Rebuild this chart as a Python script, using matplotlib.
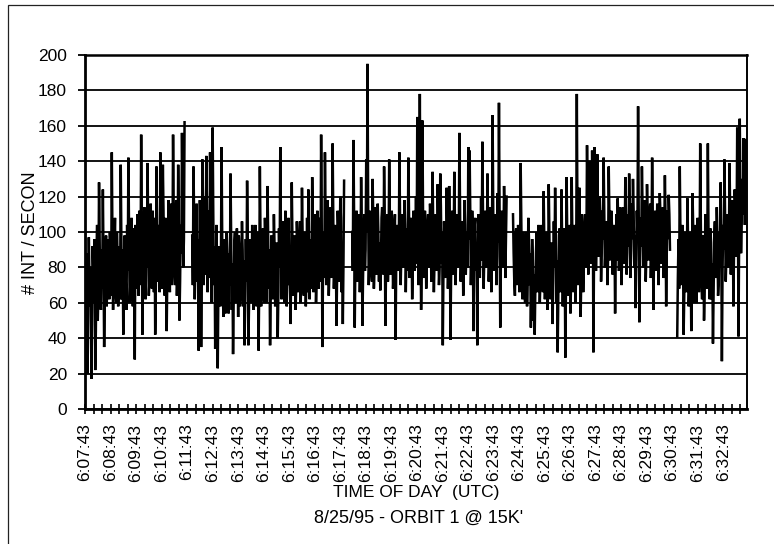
import numpy as np
import matplotlib
matplotlib.use("Agg")
import matplotlib.pyplot as plt
from matplotlib.patches import Rectangle

plt.rcParams['font.family'] = ['Liberation Sans', 'DejaVu Sans']

# ---------------- data ----------------
# counts per second, read every 3 s (main) and at the 1.5 s points in between (mid)
STEP = 3

seg1_start = 0
seg1 = [100, 62, 20, 97, 58, 17, 92, 60, 22, 86, 50, 128, 60, 90, 124, 35, 84, 58, 96, 62,
        88, 145, 56, 94, 66, 100, 58, 92, 138, 62, 42, 98, 68, 104, 142, 60, 96, 66, 102, 28,
        88, 110, 64, 96, 155, 42, 100, 70, 106, 139, 64, 100, 74, 112, 66, 42, 137, 72, 104, 145,
        68, 138, 76, 108, 44, 100, 74, 116, 70, 155, 80, 106, 64, 138, 50, 104, 156, 80, 162]
seg1_mid = [74, 88, 52, 70, 80, 48, 78, 96, 44, 104, 66, 92, 56, 68, 84, 62, 98, 72, 84, 100,
            64, 96, 78, 108, 60, 86, 70, 62, 94, 90, 66, 84, 56, 78, 100, 70, 108, 58, 80, 104,
            68, 92, 112, 70, 96, 76, 114, 62, 80, 104, 72, 116, 68, 94, 108, 70, 98, 84, 66, 110,
            96, 112, 64, 96, 78, 118, 66, 98, 84, 112, 70, 118, 80, 104, 72, 88, 120, 96]

seg2_start = 252
seg2 = [98, 137, 62, 110, 72, 33, 118, 35, 141, 70, 120, 143, 66, 112, 145, 60, 159, 70, 34, 104,
        23, 92, 58, 148, 64, 96, 54, 100, 62, 88, 133, 56, 31, 94, 60, 102, 52, 90, 64, 106,
        58, 36, 96, 129, 36, 88, 60, 104, 56, 92, 66, 100, 33, 137, 58, 96, 64, 108, 60, 126,
        68, 36, 98, 62, 110, 58, 94, 40, 102, 148, 62, 96, 66, 112, 58, 100, 70, 48, 128, 64,
        98, 56, 106, 66, 94, 60, 125, 70, 100, 58, 108, 124, 62, 96, 131, 66, 104, 60, 112, 68,
        96, 155, 35, 100, 145, 70, 118, 64, 110, 74, 150, 68, 104, 47, 112, 72, 120, 66, 48, 129]
seg2_mid = [70, 108, 84, 116, 96, 64, 90, 72, 112, 94, 76, 118, 88, 74, 104, 82, 110, 92, 66, 80,
            68, 78, 84, 96, 52, 80, 66, 88, 54, 70, 98, 82, 62, 100, 74, 86, 98, 58, 82, 90,
            84, 62, 72, 100, 58, 96, 72, 88, 68, 104, 58, 84, 70, 96, 76, 102, 60, 90, 80, 98,
            90, 64, 84, 72, 92, 70, 82, 66, 80, 100, 78, 106, 60, 90, 72, 108, 90, 74, 96, 76,
            82, 70, 94, 74, 106, 78, 98, 64, 86, 74, 66, 96, 78, 68, 104, 82, 110, 76, 94, 108,
            72, 102, 80, 74, 108, 84, 100, 78, 114, 86, 106, 80, 96, 74, 100, 84, 108, 92, 82]

seg3_start = 628
seg3 = [100, 152, 46, 104, 72, 110, 66, 131, 47, 96, 78, 141, 195, 70, 112, 80, 130, 68, 104, 76,
        116, 72, 67, 108, 84, 137, 47, 102, 72, 141, 76, 112, 68, 98, 39, 104, 78, 145, 70, 110,
        80, 118, 66, 102, 142, 74, 108, 62, 112, 78, 120, 165, 70, 178, 56, 163, 74, 112, 68, 104,
        80, 116, 72, 134, 66, 100, 78, 127, 70, 133, 82, 36, 106, 74, 125, 68, 126, 39, 104, 76,
        134, 70, 110, 80, 156, 72, 106, 64, 118, 76, 100, 148, 146, 70, 112, 44, 104, 78, 36, 110,
        74, 120, 151, 68, 108, 80, 133, 72, 114, 66, 166, 78, 110, 70, 122, 173, 46, 112, 80, 126,
        74, 120]
seg3_mid = [78, 108, 84, 112, 84, 96, 82, 102, 74, 110, 90, 100, 116, 86, 104, 72, 108, 80, 114, 88,
            100, 94, 80, 114, 76, 106, 78, 110, 86, 104, 82, 100, 76, 110, 82, 98, 84, 108, 88, 102,
            92, 104, 86, 78, 112, 90, 98, 80, 106, 88, 82, 108, 92, 104, 80, 112, 94, 100, 86, 110,
            96, 108, 84, 102, 82, 110, 88, 104, 80, 114, 100, 78, 96, 86, 106, 82, 98, 76, 112, 90,
            106, 88, 100, 90, 110, 84, 98, 82, 104, 90, 80, 96, 112, 86, 102, 80, 108, 92, 84, 100,
            92, 84, 110, 86, 112, 90, 104, 84, 100, 88, 112, 92, 106, 86, 94, 110, 84, 102, 92, 108,
            96]

seg4_start = 1006
seg4 = [110, 72, 98, 80, 104, 66, 139, 74, 100, 68, 92, 58, 108, 70, 46, 96, 50, 42, 88, 66,
        104, 60, 96, 72, 123, 62, 100, 56, 127, 70, 94, 48, 106, 125, 60, 32, 98, 66, 124, 58,
        102, 29, 131, 64, 96, 54, 131, 72, 104, 60, 178, 70, 125, 52, 110, 66, 98, 80, 149, 76,
        140, 82, 146, 32, 148, 78, 144, 86, 120, 72, 112, 142, 80, 106, 70, 137, 84, 112, 76, 104,
        54, 110, 119, 78, 114, 70, 104, 82, 131, 76, 110, 133, 74, 116, 130, 80, 57, 112, 171, 49,
        108, 137, 80, 118, 72, 127, 84, 110, 74, 142, 56, 104, 78, 116, 70, 122, 82, 108, 74, 132,
        58, 112, 121, 90]
seg4_mid = [88, 64, 102, 70, 92, 78, 104, 62, 90, 60, 100, 74, 96, 88, 72, 84, 76, 68, 100, 80,
            86, 74, 104, 66, 96, 78, 94, 70, 100, 62, 88, 72, 80, 98, 84, 68, 102, 76, 94, 80,
            86, 70, 100, 76, 104, 72, 96, 66, 92, 80, 106, 88, 98, 76, 102, 84, 110, 92, 112, 96,
            116, 96, 118, 92, 114, 94, 112, 90, 108, 88, 96, 110, 90, 100, 86, 112, 94, 104, 92, 98,
            88, 84, 106, 90, 110, 86, 114, 94, 108, 88, 92, 112, 90, 96, 112, 98, 84, 100, 112, 86,
            92, 114, 96, 110, 88, 108, 90, 116, 92, 110, 88, 112, 94, 106, 88, 110, 94, 114, 96, 108,
            90, 96, 110]

seg5_start = 1392
seg5 = [41, 96, 137, 70, 104, 42, 92, 66, 119, 58, 100, 44, 122, 70, 96, 60, 108, 66, 150, 72,
        98, 50, 110, 68, 150, 76, 102, 62, 37, 96, 74, 114, 64, 100, 128, 27, 104, 141, 72, 110,
        80, 139, 76, 118, 58, 124, 86, 159, 41, 164, 88, 130, 153, 104, 152]
seg5_mid = [74, 68, 100, 84, 92, 64, 100, 78, 94, 70, 88, 66, 102, 60, 104, 76, 96, 80, 104, 62,
            86, 66, 96, 78, 100, 62, 94, 82, 66, 106, 80, 98, 72, 84, 98, 78, 90, 108, 86, 100,
            94, 108, 92, 112, 90, 116, 100, 118, 96, 120, 104, 110, 126, 118]

time_labels = ["6:07:43", "6:08:43", "6:09:43", "6:10:43", "6:11:43", "6:12:43", "6:13:43",
               "6:14:43", "6:15:43", "6:16:43", "6:17:43", "6:18:43", "6:19:43", "6:20:43",
               "6:21:43", "6:22:43", "6:23:43", "6:24:43", "6:25:43", "6:26:43", "6:27:43",
               "6:28:43", "6:29:43", "6:30:43", "6:31:43", "6:32:43"]

segments = [(seg1_start, seg1, seg1_mid), (seg2_start, seg2, seg2_mid),
            (seg3_start, seg3, seg3_mid), (seg4_start, seg4, seg4_mid),
            (seg5_start, seg5, seg5_mid)]

# ---------------- figure ----------------
W, H = 774, 544
fig = plt.figure(figsize=(W / 100, H / 100), dpi=100)
ax = fig.add_axes([85 / W, 1 - 409 / H, (747 - 85) / W, (409 - 55) / H])

for start, main, mid in segments:
    n = len(main)
    m = min(len(mid), n - 1)
    t = np.concatenate([start + STEP * np.arange(n), start + STEP / 2 + STEP * np.arange(m)])
    v = np.concatenate([np.asarray(main, float), np.asarray(mid[:m], float)])
    order = np.argsort(t, kind='stable')
    ax.plot(t[order], v[order], color='black', lw=1.8, solid_joinstyle='miter')

ax.set_xlim(0, 1556)
ax.set_ylim(0, 200)
ax.set_yticks(range(0, 201, 20))
ax.yaxis.grid(True, color='black', lw=1.3)
ax.set_axisbelow(True)

major = [60 * i for i in range(len(time_labels))]
ax.set_xticks(major)
ax.set_xticklabels(time_labels, rotation=90, fontsize=12.5)
ax.set_xticks(np.arange(0, 1556, 20), minor=True)
ax.tick_params(axis='x', which='both', direction='inout', length=7, width=1.2, pad=7)
ax.tick_params(axis='y', direction='out', length=5, width=1.3, labelsize=12.5, pad=8)

for s in ['left', 'bottom']:
    ax.spines[s].set_linewidth(2.0)
ax.spines['right'].set_linewidth(1.4)
ax.spines['top'].set_linewidth(1.8)

fig.text(31 / W, 1 - 233 / H, '# INT / SECON', rotation=90, ha='center', va='center', fontsize=13)
fig.text(416 / W, 1 - 493 / H, 'TIME OF DAY  (UTC)', ha='center', va='center', fontsize=12.5)
fig.text(419 / W, 1 - 518 / H, "8/25/95 - ORBIT 1 @ 15K'", ha='center', va='center', fontsize=13)

fig.add_artist(Rectangle((8 / W, -0.05), 1.0, 1 - 5 / H + 0.05, transform=fig.transFigure,
                         fill=False, lw=0.9, ec='#222222'))

fig.savefig('out.png', dpi=100)
